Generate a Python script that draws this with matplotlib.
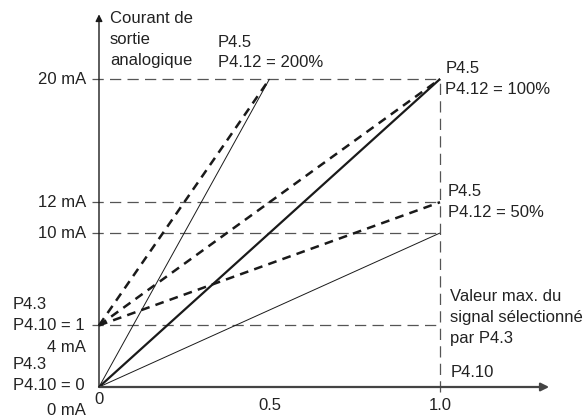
import matplotlib.pyplot as plt

plt.rcParams['font.family'] = ['Liberation Sans', 'DejaVu Sans']

# signal (x) and current (mA) values
x_ticks = [0, 0.5, 1.0]
x_ticklabels = ['0', '0.5', '1.0']
guide_levels = [20, 12, 10, 4]

# P4.10 = 0 (start at 0 mA)
lines_0 = [([0, 1.0], [0, 20], 'thick'),   # P4.12 = 100%
           ([0, 0.5], [0, 20], 'thin'),    # P4.12 = 200%
           ([0, 1.0], [0, 10], 'thin')]    # P4.12 = 50%
# P4.10 = 1 (start at 4 mA)
lines_4 = [([0, 0.5], [4, 20]),
           ([0, 1.0], [4, 20]),
           ([0, 1.0], [4, 12])]

fig = plt.figure(figsize=(5.87, 4.17), dpi=100)
ax = fig.add_axes([0, 0, 1, 1])
ax.set_xlim(-0.2903, 1.431)
ax.set_ylim(-1.948, 25.13)
ax.axis('off')

fs = 12
grey = '#555555'
ink = '#222222'
step = 1.36  # one text line in mA units


def lines_at(x, y_top, lines, ha='left'):
    for i, s in enumerate(lines):
        ax.text(x, y_top - i * step, s, ha=ha, va='center', fontsize=fs, color=ink)


# guide lines
for lv in guide_levels:
    ax.plot([-0.02, 1.0], [lv, lv], color=grey, lw=0.9, dashes=(9, 5))
ax.plot([1.0, 1.0], [-0.35, 20], color=grey, lw=0.9, dashes=(9, 5))

# axes with arrows
ax.annotate('', xy=(1.32, 0), xytext=(0, 0),
            arrowprops=dict(arrowstyle='-|>', color='#444444', lw=1.6,
                            mutation_scale=12, shrinkA=0, shrinkB=0))
ax.annotate('', xy=(0, 24.2), xytext=(0, 0),
            arrowprops=dict(arrowstyle='-|>', color='#1a1a1a', lw=1.0,
                            mutation_scale=10, shrinkA=0, shrinkB=0))

for xs, ys, w in lines_0:
    ax.plot(xs, ys, color='#1a1a1a', lw=1.6 if w == 'thick' else 0.7,
            solid_capstyle='butt')
for xs, ys in lines_4:
    ax.plot(xs, ys, color='#1a1a1a', lw=1.8, dashes=(3.5, 2.5))

# x tick labels
for xv, lab in zip(x_ticks, x_ticklabels):
    yv = -0.84 if xv == 0 else -1.17
    ax.text(xv, yv, lab, ha='center', va='center', fontsize=fs, color=ink)

# left labels
for lv in guide_levels[:3]:
    ax.text(-0.038, lv, f'{lv} mA', ha='right', va='center', fontsize=fs, color=ink)
lines_at(-0.252, 4 + step, ['P4.3', 'P4.10 = 1'])
ax.text(-0.038, 4 - 1.45, '4 mA', ha='right', va='center', fontsize=fs, color=ink)
lines_at(-0.252, 1.43, ['P4.3', 'P4.10 = 0'])
ax.text(-0.038, -1.5, '0 mA', ha='right', va='center', fontsize=fs, color=ink)

# annotations
lines_at(0.032, 23.9, ['Courant de', 'sortie', 'analogique'])
lines_at(0.349, 22.4, ['P4.5', 'P4.12 = 200%'])
lines_at(1.015, 20.7, ['P4.5', 'P4.12 = 100%'])
lines_at(1.022, 12.7, ['P4.5', 'P4.12 = 50%'])
lines_at(1.03, 5.9, ['Valeur max. du', 'signal sélectionné', 'par P4.3'])
lines_at(1.03, 0.94, ['P4.10'])

fig.savefig('out.png', dpi=100)
